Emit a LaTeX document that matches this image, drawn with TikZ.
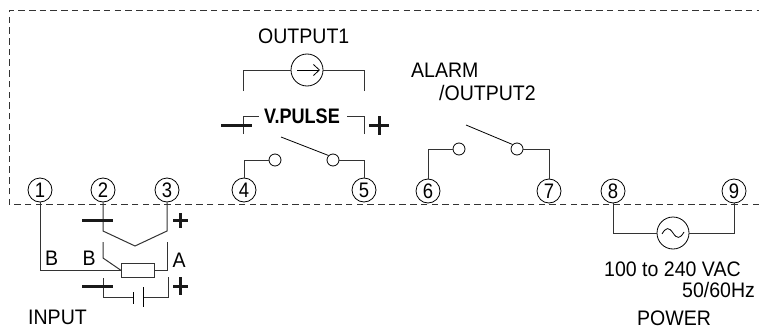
\documentclass[tikz,border=0pt]{standalone}
\usepackage{fontspec}
\usetikzlibrary{arrows.meta}
\setmainfont{Liberation Sans}
\newfontfamily\narrowfont[FakeStretch=0.93]{Liberation Sans}
\newfontfamily\narrowbold[FakeStretch=0.86]{Liberation Sans Bold}
\newfontfamily\numfont[FakeStretch=0.88]{Liberation Sans}
\tikzset{
  x=1pt,y=-1pt,
  wire/.style={draw=black!80,line width=1pt},
  thin wire/.style={draw=black,line width=0.8pt},
  terminal/.style={circle,draw=black,line width=0.8pt,minimum size=24pt,inner sep=0pt,font=\numfont\fontsize{21}{21}\selectfont},
  contact/.style={circle,draw=black,line width=0.8pt,minimum size=12pt,inner sep=0pt},
  source/.style={circle,draw=black,line width=0.8pt,minimum size=32pt,inner sep=0pt},
  label/.style={inner sep=0pt,font=\narrowfont\fontsize{21}{21}\selectfont,anchor=west},
  sign/.style={line width=3pt,draw=black!90},
  box/.style={draw=black!80,line width=1pt,dash pattern=on 6.5pt off 4.2pt}
}
\begin{document}
\begin{tikzpicture}
\useasboundingbox (0,0) rectangle (759,329);
\coordinate (bx1) at (759,204); \coordinate (bx2) at (9,204);
\coordinate (bx3) at (9,11); \coordinate (bx4) at (759,11);
\draw[box] (bx1) -- (bx2) -- (bx3) -- (bx4);
\node[terminal] (t1) at (40,190) {1};
\node[terminal] (t2) at (103,190) {2};
\node[terminal] (t3) at (167,190) {3};
\node[terminal] (t4) at (244,190) {4};
\node[terminal] (t5) at (364,190) {5};
\node[terminal] (t6) at (428,191) {6};
\node[terminal] (t7) at (549,191) {7};
\node[terminal] (t8) at (613,191) {8};
\node[terminal] (t9) at (734,191) {9};
% output 1
\node[source] (s1) at (307,70) {};
\coordinate (ar1) at (297,70); \coordinate (ar2) at (320,70);
\draw[thin wire,-{Straight Barb[length=6pt,width=11pt]}] (ar1) -- (ar2);
\coordinate (o1a) at (243,91); \coordinate (o1b) at (364,91);
\draw[wire] (o1a) |- (s1.west);
\draw[wire] (o1b) |- (s1.east);
\node[label] (ot1) at (258,36) {OUTPUT1};
% V.PULSE
\node[inner sep=0pt,font=\narrowbold\fontsize{21}{21}\selectfont] (vp) at (302,116) {V.PULSE};
\coordinate (vl) at (243,134); \coordinate (vr) at (364,134);
\coordinate (vlt) at (259,116); \coordinate (vrt) at (347,116);
\draw[wire] (vl) |- (vlt);
\draw[wire] (vr) |- (vrt);
\coordinate (m1a) at (221,125); \coordinate (m1b) at (252,125);
\draw[sign] (m1a) -- (m1b);
\coordinate (p1a) at (369,125.5); \coordinate (p1b) at (389,125.5);
\coordinate (p1c) at (379,116); \coordinate (p1d) at (379,135);
\draw[sign] (p1a) -- (p1b) (p1c) -- (p1d);
% switch 1
\node[contact] (c4) at (275,160) {};
\node[contact] (c5) at (333,160) {};
\coordinate (sw1) at (281,137);
\draw[wire] (t4.north) |- (c4.west);
\draw[wire] (t5.north) |- (c5.east);
\draw[thin wire] (sw1) -- (c5.north west);
% switch 2
\node[label] (al) at (411,70) {ALARM};
\node[label] (ot2) at (439,93) {/OUTPUT2};
\node[contact] (c6) at (459,149) {};
\node[contact] (c7) at (517,149) {};
\coordinate (sw2) at (466,125);
\draw[wire] (t6.north) |- (c6.west);
\draw[wire] (t7.north) |- (c7.east);
\draw[thin wire] (sw2) -- (c7.north west);
% power
\node[source] (ac) at (673,233) {};
\coordinate (ac1) at (662,234); \coordinate (ac2) at (684,232);
\draw[thin wire] (ac1) .. controls (666,227) and (669,227) .. (ac.center) .. controls (677,239) and (680,239) .. (ac2);
\draw[wire] (t8.south) |- (ac.west);
\draw[wire] (t9.south) |- (ac.east);
\node[label] (pw1) at (604,269) {100 to 240 VAC};
\node[label] (pw2) at (682,290) {50/60Hz};
\node[label] (pw3) at (637,318) {POWER};
% input
\coordinate (j) at (135,246);
\coordinate (i2) at (103,231); \coordinate (i3) at (167,231);
\draw[wire] (t2.south) -- (i2) -- (j) -- (i3) -- (t3.south);
\coordinate (m2a) at (82,220); \coordinate (m2b) at (113,220);
\draw[sign] (m2a) -- (m2b);
\coordinate (p2a) at (173,220.5); \coordinate (p2b) at (188,220.5);
\coordinate (p2c) at (180.5,213); \coordinate (p2d) at (180.5,228);
\draw[sign] (p2a) -- (p2b) (p2c) -- (p2d);
\node[draw=black!80,line width=1pt,minimum width=33pt,minimum height=14pt,inner sep=0pt] (res) at (137.5,270) {};
\draw[wire] (t1.south) |- (res.west);
\coordinate (rb) at (103,242); \coordinate (rc) at (103,258);
\draw[wire] (rb) -- (rc) -- (res.west);
\coordinate (ra) at (167,242);
\draw[wire] (ra) |- (res.east);
\node[label] (lb1) at (45,258.5) {B};
\node[label] (lb2) at (82.5,258.5) {B};
\node[label] (la) at (172.5,260) {A};
\coordinate (b2t) at (103,278); \coordinate (b3t) at (168,277);
\coordinate (bl) at (133,297); \coordinate (br) at (143,297);
\draw[wire] (b2t) |- (bl);
\draw[wire] (b3t) |- (br);
\coordinate (bl1) at (133,292); \coordinate (bl2) at (133,304);
\coordinate (br1) at (143,287); \coordinate (br2) at (143,307);
\draw[thin wire] (bl1) -- (bl2) (br1) -- (br2);
\coordinate (m3a) at (82,286); \coordinate (m3b) at (113,286);
\draw[sign] (m3a) -- (m3b);
\coordinate (p3a) at (173,286); \coordinate (p3b) at (188,286);
\coordinate (p3c) at (180.5,277); \coordinate (p3d) at (180.5,295);
\draw[sign] (p3a) -- (p3b) (p3c) -- (p3d);
\node[label] (inp) at (28,317) {INPUT};
\end{tikzpicture}
\end{document}
